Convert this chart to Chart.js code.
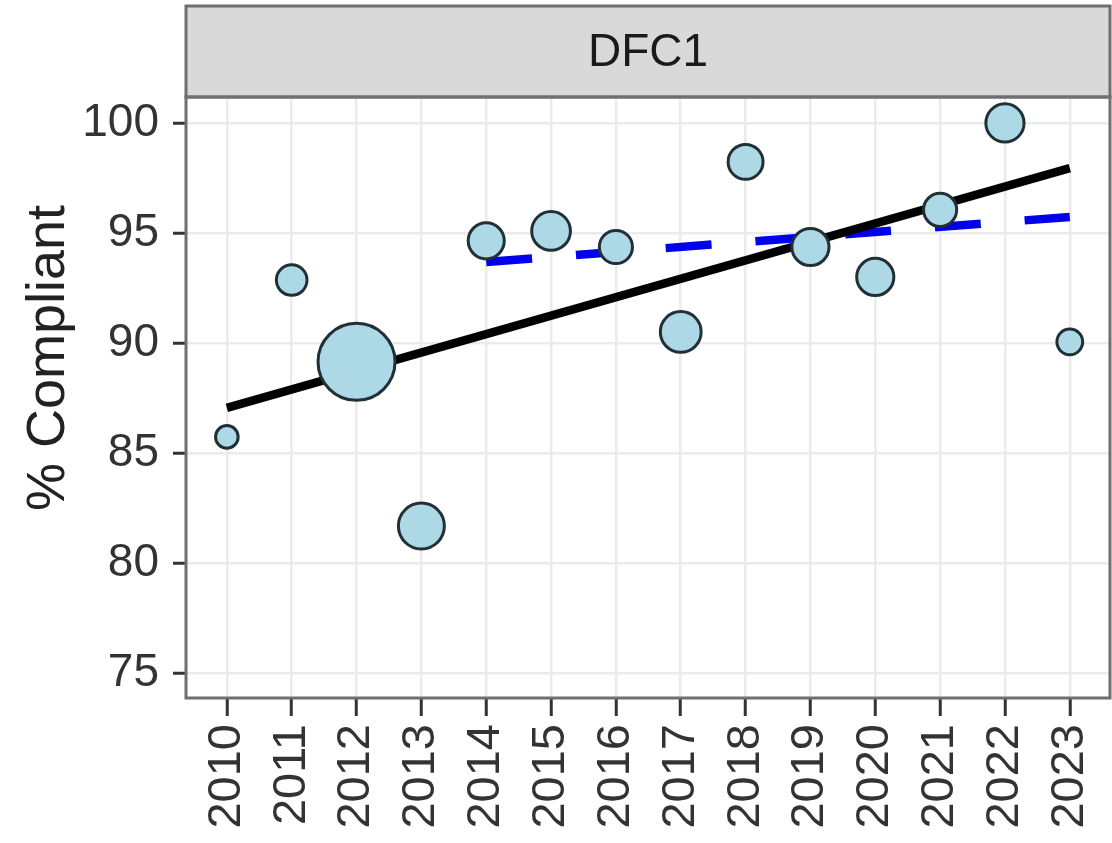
<!DOCTYPE html>
<html>
<head>
<meta charset="utf-8">
<script src="https://cdn.jsdelivr.net/npm/chart.js@4.4.1/dist/chart.umd.min.js"></script>
<style>
  html, body { margin: 0; padding: 0; background: #ffffff; }
  #wrap { width: 1112px; height: 843px; position: relative; }
</style>
</head>
<body>
<div id="wrap"><canvas id="c" width="1112" height="843"></canvas></div>
<script>
// ---- data ----
const years = [2010, 2011, 2012, 2013, 2014, 2015, 2016, 2017, 2018, 2019, 2020, 2021, 2022, 2023];
const compliance = [85.73, 92.86, 89.14, 81.68, 94.64, 95.09, 94.36, 90.5, 98.23, 94.36, 93.0, 96.05, 100.0, 90.05];
const sampleSize = [15, 26, 147, 55, 35, 40, 30, 44, 33, 37, 37, 30, 39, 19];
const trendYears = [2010, 2023];
const trendValues = [87.05, 97.95];
const recentYears = [2014, 2023];
const recentValues = [93.68, 95.73];
const yTicks = [75, 80, 85, 90, 95, 100];
const facetLabel = 'DFC1';
const yTitle = '% Compliant';

const FONT = "'Liberation Sans', Arial, Helvetica, sans-serif";

const decor = {
  id: 'decor',
  afterDraw(chart) {
    const { ctx, chartArea: a } = chart;
    ctx.save();
    // strip
    ctx.fillStyle = '#d9d9d9';
    ctx.fillRect(a.left, 6, a.right - a.left, a.top - 6);
    ctx.strokeStyle = '#6f6f6f';
    ctx.lineWidth = 3;
    ctx.strokeRect(a.left, 6, a.right - a.left, a.top - 6);
    // panel border
    ctx.strokeRect(a.left, a.top, a.right - a.left, a.bottom - a.top);
    // strip text
    ctx.fillStyle = '#1a1a1a';
    ctx.font = '46px ' + FONT;
    ctx.textAlign = 'center';
    ctx.textBaseline = 'middle';
    ctx.fillText(facetLabel, (a.left + a.right) / 2, (6 + a.top) / 2 + 2);
    // y title
    ctx.translate(49, 358);
    ctx.rotate(-Math.PI / 2);
    ctx.fillStyle = '#222222';
    ctx.font = '54px ' + FONT;
    ctx.fillText(yTitle, 0, 0);
    ctx.restore();
  }
};

const rad = ctx => 3.3 * Math.sqrt(sampleSize[ctx.dataIndex]) - 1.5;

new Chart(document.getElementById('c'), {
  type: 'scatter',
  data: {
    datasets: [
      {
        label: 'points',
        data: years.map((y, i) => ({ x: y, y: compliance[i] })),
        backgroundColor: '#add8e6',
        borderColor: '#223036',
        borderWidth: 3,
        pointRadius: rad,
        pointHoverRadius: rad,
        clip: false,
        order: 0
      },
      {
        type: 'line',
        label: 'trend',
        data: trendYears.map((y, i) => ({ x: y, y: trendValues[i] })),
        borderColor: '#000000',
        borderWidth: 8.5,
        pointRadius: 0,
        fill: false,
        order: 1
      },
      {
        type: 'line',
        label: 'recent',
        data: recentYears.map((y, i) => ({ x: y, y: recentValues[i] })),
        borderColor: '#0000ee',
        borderWidth: 8.5,
        borderDash: [46, 44],
        borderCapStyle: 'butt',
        pointRadius: 0,
        fill: false,
        order: 2
      }
    ]
  },
  options: {
    responsive: false,
    animation: false,
    layout: { autoPadding: false, padding: { top: 97, right: 2, left: 0, bottom: 0 } },
    plugins: { legend: { display: false }, tooltip: { enabled: false } },
    scales: {
      x: {
        type: 'linear',
        min: 2009.37,
        max: 2023.62,
        afterBuildTicks: s => { s.ticks = years.map(v => ({ value: v })); },
        afterFit: s => { s.height = 145; s.paddingLeft = 0; s.paddingRight = 0; },
        grid: { color: '#ebebeb', lineWidth: 2.5, drawTicks: true, tickLength: 18, tickColor: '#333333', tickWidth: 3 },
        border: { display: false },
        ticks: {
          autoSkip: false,
          minRotation: 90,
          maxRotation: 90,
          padding: 8,
          color: '#333333',
          font: { family: FONT, size: 47 },
          callback: v => String(v)
        }
      },
      y: {
        type: 'linear',
        min: 73.86,
        max: 101.18,
        afterBuildTicks: s => { s.ticks = yTicks.map(v => ({ value: v })); },
        afterFit: s => { s.width = 186; s.paddingTop = 0; s.paddingBottom = 0; },
        grid: { color: '#ebebeb', lineWidth: 2.5, drawTicks: true, tickLength: 13, tickColor: '#333333', tickWidth: 3 },
        border: { display: false },
        ticks: {
          padding: 14,
          color: '#333333',
          font: { family: FONT, size: 46 },
          callback: v => String(v)
        }
      }
    }
  },
  plugins: [decor]
});
</script>
</body>
</html>
